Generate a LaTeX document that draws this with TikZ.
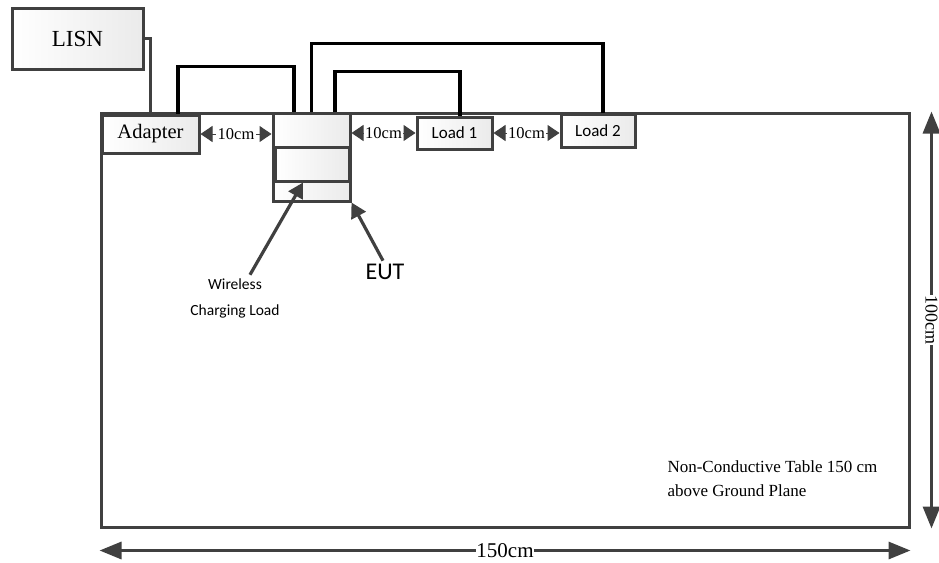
\documentclass[tikz,border=0pt]{standalone}
\usepackage{fontspec}
\setmainfont{Liberation Serif}
\newfontfamily\calfont{Carlito}
\usetikzlibrary{arrows.meta,shadows}
\definecolor{edgegray}{RGB}{64,64,64}

\begin{document}
\begin{tikzpicture}[x=1pt, y=-1pt,
    box/.style={draw=edgegray, line width=3pt, inner sep=0pt, left color=white, right color=gray!16,
      drop shadow={opacity=0.2, shadow xshift=2pt, shadow yshift=-2pt}},
    wire/.style={line width=3.2pt, black},
    gap/.style={draw=edgegray, line width=1pt,
      {Triangle[length=12pt,width=16pt]}-{Triangle[length=12pt,width=16pt]}},
    gaplbl/.style={fill=white, inner sep=1.5pt, font=\fontsize{16.5}{16.5}\selectfont},
    dim/.style={draw=edgegray, line width=3.2pt,
      {Triangle[length=22pt,width=17pt]}-{Triangle[length=22pt,width=17pt]}},
    dimlbl/.style={fill=white, inner sep=0.5pt, font=\fontsize{21}{21}\selectfont},
    pointer/.style={draw=edgegray, line width=3.2pt, -{Triangle[length=15pt,width=16pt]}}]
    \useasboundingbox (0,0) rectangle (939,562);

    % table and boxes
    \node[draw=edgegray, line width=3pt, minimum width=808, minimum height=414] (table) at (505,320) {};
    \node[box, minimum width=131, minimum height=61, font=\fontsize{23}{23}\selectfont] (lisn) at (77.5,38.5) {LISN};
    \node[box, minimum width=97, minimum height=38, font=\fontsize{20.5}{20.5}\selectfont] (adapter) at (150.5,134) {Adapter};
    \node[box, minimum width=77, minimum height=88] (eut) at (311.5,157) {};
    \node[box, minimum width=74, minimum height=34] (wcl) at (312,164) {};
    \node[box, minimum width=75, minimum height=32, font=\calfont\fontsize{17}{17}\selectfont] (load1) at (454.5,133) {Load 1};
    \node[box, minimum width=74, minimum height=33, font=\calfont\fontsize{17}{17}\selectfont] (load2) at (598,130.5) {Load 2};

    % cables
    \draw[draw=edgegray, line width=3pt] (lisn.east) -| (adapter.north);
    \draw[wire] ([xshift=27.5]adapter.north) -- ++(0,-47) -| ([xshift=-17.5]eut.north);
    \draw[wire] (eut.north) -- ++(0,-68) -| ([xshift=5]load2.north);
    \draw[wire] ([xshift=23.5]eut.north) -- ++(0,-40) -| ([xshift=5.5]load1.north);

    % spacing
    \draw[gap] (adapter.east) -- node[gaplbl]{10cm} (adapter.east -| eut.west);
    \draw[gap] (load1.west -| eut.east) -- node[gaplbl]{10cm} (load1.west);
    \draw[gap] (load1.east) -- node[gaplbl]{10cm} (load1.east -| load2.west);

    % labels
    \node[font=\calfont\fontsize{15.5}{26}\selectfont, align=center] (wcllbl) at (235,298) {Wireless\\Charging Load};
    \node[font=\calfont\fontsize{24}{24}\selectfont] (eutlbl) at (385,272) {EUT};
    \draw[pointer] ([xshift=15]wcllbl.north) -- ([xshift=-9]wcl.south);
    \draw[pointer] ([xshift=-2]eutlbl.north) -- (eut.south east);
    \node[font=\fontsize{17}{24}\selectfont, align=left, anchor=west] (note) at (664,479)
      {Non-Conductive Table 150 cm\\above Ground Plane};

    % dimensions
    \draw[dim] ([xshift=21]table.north east) -- node[dimlbl, font=\fontsize{18}{18}\selectfont, rotate=-90]{100cm} ([xshift=21]table.south east);
    \draw[dim] ([yshift=-22pt]table.south west) -- node[dimlbl]{150cm} ([yshift=-22pt]table.south east);
\end{tikzpicture}
\end{document}
